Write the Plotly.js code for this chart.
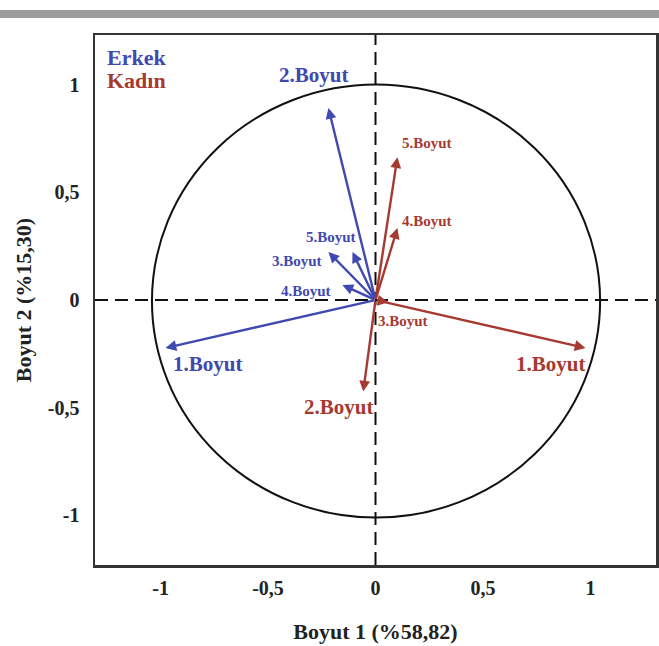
<!DOCTYPE html>
<html>
<head>
<meta charset="utf-8">
<script src="https://cdn.plot.ly/plotly-3.0.1.min.js"></script>
<style>html,body{margin:0;padding:0;background:#fff;}#chart{width:659px;height:646px;}</style>
</head>
<body>
<div id="chart"></div>
<script>
// ---- data ----
const dims = ['1.Boyut', '2.Boyut', '3.Boyut', '4.Boyut', '5.Boyut'];
const erkekX = [-0.977, -0.219, -0.219, -0.154, -0.107];
const erkekY = [-0.223, 0.891, 0.223, 0.070, 0.223];
const kadinX = [0.977, -0.057, 0.060, 0.102, 0.102];
const kadinY = [-0.223, -0.425, -0.010, 0.334, 0.663];
const groupNames = ['Erkek', 'Kadın'];
const xTickVals = [-1, -0.5, 0, 0.5, 1];
const xTickText = ['-1', '-0,5', '0', '0,5', '1'];
const yTickVals = [-1, -0.5, 0, 0.5, 1];
const yTickText = ['-1', '-0,5', '0', '0,5', '1'];
const xTitle = 'Boyut 1 (%58,82)';
const yTitle = 'Boyut 2 (%15,30)';

// ---- styles ----
const BLUE = '#4049b0';
const RED = '#a63a31';
const FONT = 'Liberation Serif, Times New Roman, serif';
// label pixel offsets relative to the arrow tips
const erkekOff = [[42, -16], [-15, 33], [-31, -9], [-36, -6], [-22, 15]];
const kadinOff = [[-35, -16], [-25, -15], [15, -19], [30, 7], [30, 14]];
const bigIdx = [0, 1];

const annotations = [];
function addGroup(xs, ys, color, offs) {
  xs.forEach((x, i) => {
    annotations.push({
      x: x, y: ys[i], xref: 'x', yref: 'y', ax: 0, ay: 0, axref: 'x', ayref: 'y',
      text: '', showarrow: true, arrowhead: 2, arrowsize: 0.9, arrowwidth: 2.4,
      arrowcolor: color, standoff: 0, startstandoff: 0
    });
    const big = bigIdx.includes(i);
    annotations.push({
      x: x, y: ys[i], xref: 'x', yref: 'y', text: dims[i], showarrow: false,
      xshift: offs[i][0], yshift: offs[i][1], xanchor: 'center', yanchor: 'middle',
      font: {family: FONT, size: big ? 21 : 15, color: color, weight: 'bold'}
    });
  });
}
addGroup(erkekX, erkekY, BLUE, erkekOff);
addGroup(kadinX, kadinY, RED, kadinOff);

annotations.push({xref: 'paper', yref: 'paper', x: 0.017, y: 0.957, xanchor: 'left', yanchor: 'middle',
  text: groupNames[0], showarrow: false, font: {family: FONT, size: 22, color: BLUE, weight: 'bold'}});
annotations.push({xref: 'paper', yref: 'paper', x: 0.017, y: 0.915, xanchor: 'left', yanchor: 'middle',
  text: groupNames[1], showarrow: false, font: {family: FONT, size: 22, color: RED, weight: 'bold'}});

const traces = [
  {x: erkekX, y: erkekY, type: 'scatter', mode: 'markers', marker: {opacity: 0}, hoverinfo: 'skip', showlegend: false},
  {x: kadinX, y: kadinY, type: 'scatter', mode: 'markers', marker: {opacity: 0}, hoverinfo: 'skip', showlegend: false}
];

const layout = {
  width: 659, height: 646,
  margin: {l: 95, r: 3, t: 35, b: 81},
  paper_bgcolor: '#fff', plot_bgcolor: '#fff',
  showlegend: false,
  xaxis: {
    range: [-1.305, 1.305], tickvals: xTickVals, ticktext: xTickText,
    showgrid: false, zeroline: false, showline: true, mirror: true, linecolor: '#333', linewidth: 2.5,
    ticks: '', ticklabelstandoff: 3,
    tickfont: {family: FONT, size: 20, color: '#222', weight: 'bold'},
    title: {text: xTitle, font: {family: FONT, size: 22, color: '#222', weight: 'bold'}, standoff: 26}
  },
  yaxis: {
    range: [-1.23, 1.23], tickvals: yTickVals, ticktext: yTickText,
    showgrid: false, zeroline: false, showline: true, mirror: true, linecolor: '#333', linewidth: 2.5,
    ticks: '', ticklabelstandoff: 9,
    tickfont: {family: FONT, size: 20, color: '#222', weight: 'bold'},
    title: {text: yTitle, font: {family: FONT, size: 22, color: '#222', weight: 'bold'}, standoff: 10}
  },
  shapes: [
    {type: 'rect', xref: 'paper', yref: 'paper', x0: -0.2, x1: 1.1, y0: 1.032, y1: 1.047,
      fillcolor: '#9b9b9d', line: {width: 0}, layer: 'above'},
    {type: 'line', xref: 'x', yref: 'y', x0: -1.305, x1: 1.305, y0: 0, y1: 0,
      line: {color: '#111', width: 2, dash: '13px,7px'}, layer: 'below'},
    {type: 'line', xref: 'x', yref: 'y', x0: 0, x1: 0, y0: -1.23, y1: 1.23,
      line: {color: '#111', width: 2, dash: '13px,7px'}, layer: 'below'},
    {type: 'circle', xref: 'x', yref: 'y', x0: -1.04, x1: 1.045, y0: -1.01, y1: 1.0,
      line: {color: '#111', width: 2}, layer: 'below'}
  ],
  annotations: annotations
};

Plotly.newPlot('chart', traces, layout, {displayModeBar: false, staticPlot: true});
</script>
</body>
</html>
